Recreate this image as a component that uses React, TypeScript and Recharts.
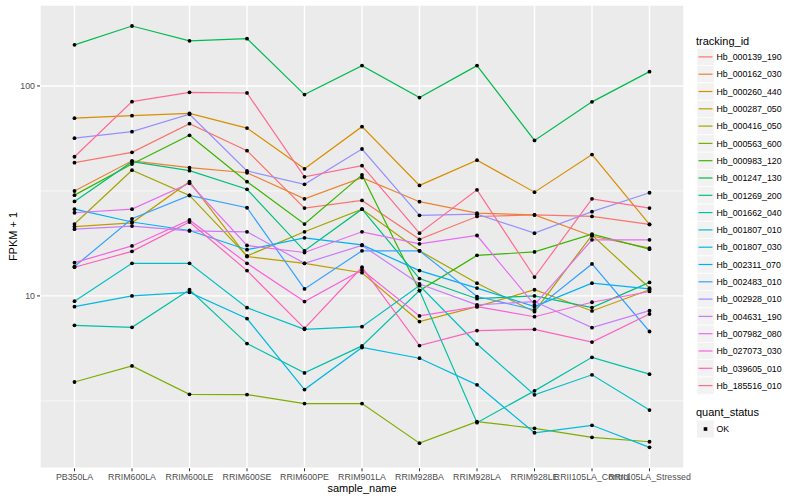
import { CartesianGrid, Line, LineChart, ReferenceLine, XAxis, YAxis } from "recharts";

const sampleNames = [
  "PB350LA",
  "RRIM600LA",
  "RRIM600LE",
  "RRIM600SE",
  "RRIM600PE",
  "RRIM901LA",
  "RRIM928BA",
  "RRIM928LA",
  "RRIM928LE",
  "RRII105LA_Control",
  "RRII105LA_Stressed",
];

const trackingIds = [
  "Hb_000139_190",
  "Hb_000162_030",
  "Hb_000260_440",
  "Hb_000287_050",
  "Hb_000416_050",
  "Hb_000563_600",
  "Hb_000983_120",
  "Hb_001247_130",
  "Hb_001269_200",
  "Hb_001662_040",
  "Hb_001807_010",
  "Hb_001807_030",
  "Hb_002311_070",
  "Hb_002483_010",
  "Hb_002928_010",
  "Hb_004631_190",
  "Hb_007982_080",
  "Hb_027073_030",
  "Hb_039605_010",
  "Hb_185516_010",
];

const trackingColors = [
  "#F8766D", "#EA8331", "#D89000", "#C09B00", "#A3A500",
  "#7CAE00", "#39B600", "#00BB4E", "#00BF7D", "#00C1A3",
  "#00BFC4", "#00BAE0", "#00B0F6", "#35A2FF", "#9590FF",
  "#C77CFF", "#E76BF3", "#FA62DB", "#FF62BC", "#FF6C91",
];

// FPKM + 1, one value per sample
const hb000139_190 = [43.1, 48.3, 66.1, 49.2, 26.2, 28.5, 18.6, 23.9, 24.3, 23.9, 21.9];
const hb000162_030 = [31.6, 44.0, 40.8, 38.6, 29.0, 36.6, 28.1, 24.8, 24.3, 19.3, 16.9];
const hb000260_440 = [70.2, 72.2, 74.1, 63.0, 40.3, 64.0, 33.6, 44.3, 31.2, 47.1, 21.9];
const hb000287_050 = [21.4, 22.3, 35.0, 15.4, 14.3, 12.9, 7.55, 8.89, 10.7, 8.48, 10.7];
const hb000416_050 = [22.0, 39.7, 30.1, 15.5, 20.2, 25.9, 16.4, 11.5, 8.41, 19.5, 10.9];
const hb000563_600 = [3.89, 4.64, 3.4, 3.39, 3.07, 3.07, 1.99, 2.52, 2.34, 2.12, 2.02];
const hb000983_120 = [30.2, 42.5, 58.2, 35.0, 22.0, 37.7, 10.6, 15.6, 16.2, 19.7, 16.7];
const hb001247_130 = [157, 193, 164, 168, 91, 125, 88, 125, 55, 84, 117];
const hb001269_200 = [28.2, 43.6, 39.5, 32.2, 16.4, 25.9, 12.1, 9.7, 10.0, 8.8, 11.6];
const hb001662_040 = [7.24, 7.09, 10.7, 5.93, 4.3, 5.78, 10.6, 2.49, 3.53, 5.1, 4.24];
const hb001807_010 = [9.44, 14.3, 14.3, 8.79, 6.93, 7.14, 11.2, 5.9, 3.38, 4.21, 2.86];
const hb001807_030 = [8.89, 10.0, 10.4, 7.8, 3.58, 5.68, 5.05, 3.77, 2.23, 2.42, 1.9];
const hb002311_070 = [25.9, 22.5, 20.5, 16.6, 18.9, 17.5, 13.2, 10.9, 8.89, 11.5, 10.8];
const hb002483_010 = [13.8, 23.3, 30.1, 26.3, 10.8, 16.4, 16.4, 9.93, 8.58, 14.2, 6.77];
const hb002928_010 = [56.4, 60.6, 73.3, 39.4, 34.0, 50.1, 24.2, 24.5, 19.9, 25.2, 31.0];
const hb004631_190 = [20.8, 21.5, 20.4, 20.2, 14.3, 17.4, 11.4, 9.06, 9.4, 7.06, 8.51];
const hb007982_080 = [24.9, 25.9, 34.4, 17.4, 16.1, 20.2, 17.7, 19.4, 9.06, 18.5, 18.5];
const hb027073_030 = [14.4, 17.3, 23.0, 14.3, 9.4, 13.3, 8.03, 8.89, 7.96, 9.33, 10.5];
const hb039605_010 = [13.7, 16.3, 22.5, 13.2, 7.01, 13.7, 5.8, 6.84, 6.93, 6.03, 8.2];
const hb185516_010 = [46.0, 84.2, 93.3, 92.6, 36.9, 41.7, 19.9, 32.0, 12.3, 29.0, 26.2];

const fpkmBySeries = [
  hb000139_190, hb000162_030, hb000260_440, hb000287_050, hb000416_050,
  hb000563_600, hb000983_120, hb001247_130, hb001269_200, hb001662_040,
  hb001807_010, hb001807_030, hb002311_070, hb002483_010, hb002928_010,
  hb004631_190, hb007982_080, hb027073_030, hb039605_010, hb185516_010,
];

const yTicks = [10, 100];
const yMinorBreaks = [3.162, 31.62];

const chartData = sampleNames.map((name, i) => {
  const row: Record<string, string | number> = { sample_name: name };
  trackingIds.forEach((id, j) => {
    row[id] = fpkmBySeries[j][i];
  });
  return row;
});

const FONT = "'Liberation Sans', Arial, Helvetica, sans-serif";

const pointDot = (props: any) => {
  const { cx, cy, key } = props;
  if (cx == null || cy == null) return <g key={key} />;
  return <circle key={key} cx={cx} cy={cy} r={1.9} fill="#000000" />;
};

function LegendOverlay() {
  const keyTop = 48.4;
  const step = 17.3;
  return (
    <svg
      width={800}
      height={500}
      style={{ position: "absolute", left: 0, top: 0, pointerEvents: "none", fontFamily: FONT }}
    >
      <text x={13} y={236.5} fontSize={11} fill="#000" textAnchor="middle"
        transform="rotate(-90 13 236.5)" dominantBaseline="central">
        FPKM + 1
      </text>
      <text x={362} y={488} fontSize={11} fill="#000" textAnchor="middle" dominantBaseline="central">
        sample_name
      </text>

      <text x={696} y={40.5} fontSize={11} fill="#000" dominantBaseline="central">
        tracking_id
      </text>
      {trackingIds.map((id, i) => {
        const top = keyTop + i * step;
        return (
          <g key={id}>
            <rect x={697} y={top} width={17} height={17} fill="#F2F2F2" stroke="#FFFFFF" strokeWidth={0.5} />
            <line x1={698.5} x2={712.5} y1={top + 8.5} y2={top + 8.5} stroke={trackingColors[i]} strokeWidth={1.2} />
            <text x={716.5} y={top + 8.7} fontSize={8.8} fill="#000" dominantBaseline="central">
              {id}
            </text>
          </g>
        );
      })}

      <text x={696} y={412.3} fontSize={11} fill="#000" dominantBaseline="central">
        quant_status
      </text>
      <rect x={697} y={420.5} width={17} height={17} fill="#F2F2F2" />
      <rect x={703.7} y={427.2} width={3.6} height={3.6} fill="#000" />
      <text x={716.5} y={429.2} fontSize={8.8} fill="#000" dominantBaseline="central">
        OK
      </text>
    </svg>
  );
}

export default function App() {
  return (
    <div style={{ position: "absolute", left: 0, top: 0, width: 800, height: 500, background: "#FFFFFF", fontFamily: FONT }}>
      <LineChart
        width={800}
        height={500}
        data={chartData}
        margin={{ top: 5, right: 116, bottom: 0, left: 0 }}
      >
        <CartesianGrid fill="#EBEBEB" stroke="#FFFFFF" strokeWidth={1.4} />
        {yMinorBreaks.map((v) => (
          <ReferenceLine key={v} y={v} stroke="#FFFFFF" strokeWidth={0.7} />
        ))}
        <XAxis
          dataKey="sample_name"
          interval={0}
          height={31.7}
          padding={{ left: 34.5, right: 34.5 }}
          axisLine={false}
          tickSize={3}
          tickMargin={2}
          tickLine={{ stroke: "#333333" }}
          tick={{ fill: "#4D4D4D", fontSize: 8.8, fontFamily: FONT }}
        />
        <YAxis
          type="number"
          scale="log"
          domain={[1.51, 243]}
          allowDataOverflow
          ticks={yTicks}
          width={40}
          axisLine={false}
          tickSize={3}
          tickMargin={2}
          tickLine={{ stroke: "#333333" }}
          tick={{ fill: "#4D4D4D", fontSize: 8.8, fontFamily: FONT }}
        />
        {trackingIds.map((id, i) => (
          <Line
            key={id}
            type="linear"
            dataKey={id}
            stroke={trackingColors[i]}
            strokeWidth={1.2}
            dot={false}
            activeDot={false}
            isAnimationActive={false}
          />
        ))}
        {trackingIds.map((id) => (
          <Line
            key={`${id}-pts`}
            type="linear"
            dataKey={id}
            stroke="none"
            dot={pointDot}
            activeDot={false}
            isAnimationActive={false}
          />
        ))}
      </LineChart>
      <LegendOverlay />
    </div>
  );
}
